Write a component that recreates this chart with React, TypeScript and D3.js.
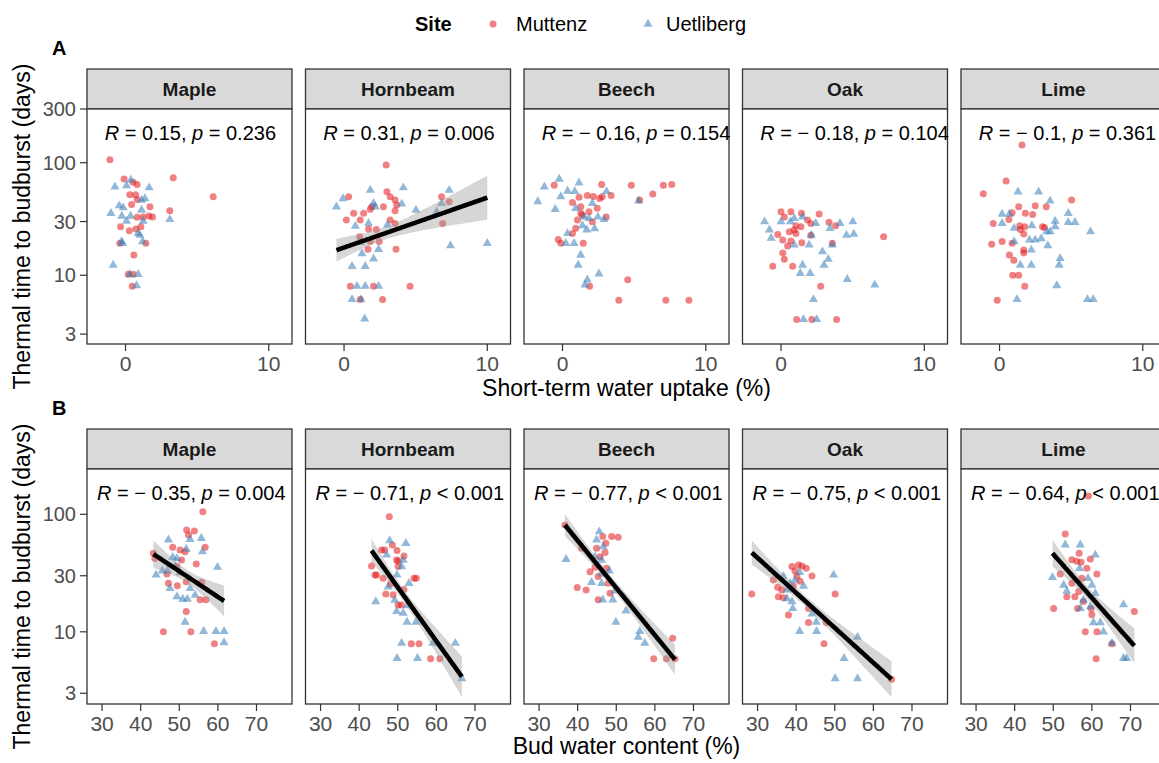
import React from "react";
import * as d3 from "d3";

type Pt = [number, number];

// Tree species shown as facets (left to right) and the two sites
const species = ["Maple", "Hornbeam", "Beech", "Oak", "Lime"];
const sites = ["Muttenz", "Uetliberg"];

// ---- Panel A: short-term water uptake (%) vs thermal time to budburst (days)
const mapleUptakeMuttenz: Pt[] = [[-1.09,106],[-0.1,71.7],[0.53,67],[0.81,64],[3.33,73.6],[6.12,49.9],[0.3,52],[0.7,52],[0.42,42.6],[0.81,47.2],[1.7,40.6],[3.09,37.4],[1.63,33.6],[1.88,33],[0.81,32.7],[1.23,33],[-0.35,27],[0.26,24.9],[0.72,25.7],[1.07,27],[-0.4,19.2],[1.42,19.2],[0.58,15.1],[0.19,10.2],[0.47,8.0],[0.53,10.2]];
const mapleUptakeUetliberg: Pt[] = [[-0.74,61],[0.07,62.5],[0.37,70],[1.65,60],[1.35,48],[1.12,46.6],[-0.44,41.5],[-0.16,39.8],[-1.02,35.5],[-0.26,33.6],[0.35,33.6],[0.07,30.3],[1.12,37.9],[1.23,30.3],[3.09,31.3],[0.88,23.5],[1.0,22.7],[1.19,19.9],[-0.28,19.9],[-0.21,19.2],[-0.86,12.3],[0.3,10.2],[0.88,10.2],[0.77,8.1]];
const hornbeamUptakeMuttenz: Pt[] = [[2.94,95.3],[0.32,49.9],[2.99,55.2],[3.22,49.9],[3.56,46.6],[3.68,42.1],[2.75,40.6],[1.94,40.6],[1.83,38.5],[3.56,37.4],[0.67,35.5],[1.37,35.5],[0.16,31],[1.13,31],[3.22,31],[3.56,28.9],[6.81,49.9],[7.34,45],[6.88,28.9],[1.71,25.7],[2.25,25.5],[1.83,19.9],[2.45,19.9],[1.67,17],[3.63,17],[0.44,8.0],[2.06,8.0],[4.61,8.0],[1.13,6.1],[2.69,6.1],[1.09,22]];
const hornbeamUptakeUetliberg: Pt[] = [[-0.07,48],[-0.53,40.6],[1.83,57],[4.14,60],[7.34,57],[2.06,43.6],[2.18,40.6],[4.03,43],[5.02,37.9],[6.46,36.6],[6.81,43.6],[0.79,27.3],[1.71,28.9],[3.03,28],[1.13,19.6],[1.25,15.6],[2.41,17],[2.06,14],[0.56,12],[1.48,12],[0.9,8.0],[1.48,8.0],[2.41,8],[0.56,6.1],[1.18,6.1],[1.44,4.1],[7.43,18.3],[10.0,19.2]];
const beechUptakeMuttenz: Pt[] = [[-0.58,63.2],[2.73,64],[4.8,63.2],[7.04,63.2],[7.62,64],[1.15,49.2],[1.73,51],[2.15,50],[2.77,49.9],[3.39,51],[2.59,48],[5.38,46.6],[6.3,52.6],[0.69,44.2],[1.27,40.6],[1.85,36.6],[2.42,39.3],[1.27,35.5],[1.39,34.3],[1.04,31],[3.05,33],[2.08,29.9],[0.92,26.2],[0.69,23.5],[-0.3,20.8],[-0.12,19.2],[1.45,19.2],[4.55,9.1],[1.89,8],[3.93,6.0],[7.21,6.0],[8.82,6.0]];
const beechUptakeUetliberg: Pt[] = [[-0.23,71.6],[-1.27,61],[-1.73,45.2],[-0.51,38.5],[-0.12,50],[0.35,56],[1.15,66.3],[0.85,55.6],[3.07,55.6],[2.08,43.6],[0.92,39.3],[1.5,33],[1.85,32],[2.47,33],[2.89,31.3],[1.39,27.6],[1.69,25.3],[2.24,26],[0.35,23.5],[0.23,19.2],[0.81,19.2],[1.27,15.1],[1.09,12.3],[2.54,10.3],[1.73,9.1],[1.57,8.2],[5.31,45.7]];
const oakUptakeMuttenz: Pt[] = [[0,36.6],[0.69,36.6],[0.23,33],[1.43,35.5],[2.66,35],[1.85,31],[2.08,28.9],[3.35,29.5],[3.81,27.6],[1.04,27.6],[0.92,25.3],[0.58,24.4],[1.39,27],[-0.23,23],[7.16,22],[0.12,20.6],[0.69,20.2],[1.45,19.4],[0.46,18.2],[2.08,22.7],[3.58,19.2],[0.12,15.8],[0.23,13.9],[-0.58,12],[0.81,12],[2.77,8],[1.09,4.05],[2.15,4.05],[3.88,4.05],[1.04,23.5]];
const oakUptakeUetliberg: Pt[] = [[-1.15,29.9],[-0.81,25.3],[-0.69,21.4],[0,29.9],[0.65,29.9],[0.92,32],[1.5,33],[2.42,28.9],[2.12,22.7],[1.96,18.6],[0.92,18.6],[3.42,26.1],[4.11,28.9],[5.01,29.9],[4.57,22.7],[5.08,23.2],[2.89,16.2],[3.3,13.9],[3.0,12.3],[1.5,12.3],[1.34,10.4],[2.03,10.4],[4.62,9.2],[6.54,8.2],[2.26,6.1],[1.57,4.05],[2.49,4.05],[3.58,18.6]];
const limeUptakeMuttenz: Pt[] = [[1.57,143.5],[0.46,68.7],[-1.13,53],[1.34,40.6],[2.49,41.4],[3.26,40.6],[5.03,46.6],[1.8,35.5],[2.31,34.7],[0.88,35.9],[0.65,31.3],[-0.44,28.9],[1.41,27.6],[1.76,27],[3.0,27],[3.14,26.5],[1.45,25.5],[1.69,23.2],[-0.55,18.9],[0.18,19.9],[0.88,19.2],[1.69,16.8],[1.69,15.8],[0.69,15.1],[1.0,13.6],[0.92,10],[1.34,10],[1.76,8],[-0.16,6.0]];
const limeUptakeUetliberg: Pt[] = [[1.29,55.2],[2.73,55.2],[3.53,45.7],[0.18,35],[0.69,35],[0.18,28.9],[1.02,26.2],[2.26,27.6],[3.88,30.3],[3.88,27],[4.8,35.5],[4.8,29.5],[5.27,29.5],[6.35,24.4],[3.3,24.4],[3.53,24.4],[2.08,20.6],[2.49,20.6],[2.91,21.2],[3.37,18.3],[2.22,16.8],[1.45,12.3],[2.22,12.3],[4.23,14.1],[4.16,12.3],[4.0,8.1],[1.22,6.1],[6.14,6.1],[6.54,6.1],[1.02,19.9]];

// ---- Panel B: bud water content (%) vs thermal time to budburst (days)
const mapleWaterMuttenz: Pt[] = [[56.1,105],[51.9,73.6],[52.4,66.7],[53.9,72],[43.3,46.6],[48.3,52.4],[50.2,49.7],[51.5,48.1],[56.7,52.4],[50.6,40.8],[54.4,37.8],[46.8,31],[49.4,35.9],[51.8,26.7],[47.2,25.9],[49.5,24.7],[55.8,26.4],[55.4,18.7],[56.9,18.7],[51.8,14.9],[45.9,10],[53,10],[59.1,7.9],[43.7,42]];
const mapleWaterUetliberg: Pt[] = [[47.2,60.6],[52.8,61.3],[55.7,62.4],[51.8,50.6],[56,48.1],[48.3,43],[49.4,42],[44,30.5],[46.9,33],[50.2,31.8],[47.6,23.4],[52.8,23.4],[49.4,19.9],[50.9,19],[52.1,19],[54.1,20.5],[59.9,35.5],[51.5,12.1],[56.3,10.1],[59.5,10.1],[61.6,10.1],[61.6,8.1],[48.9,35.9],[45.6,33]];
const hornbeamWaterMuttenz: Pt[] = [[47.8,95.5],[45.8,49.7],[46.6,49.7],[49.8,49.1],[51.6,44.2],[48.6,54.8],[43.2,36.3],[44.1,30.5],[44.5,30.5],[46.2,28.5],[49.7,40.8],[50.1,35.9],[48.1,25.5],[54.2,28.5],[54.8,28.5],[46.9,21],[48.8,20.7],[51.6,22.9],[50.1,16.9],[50.9,16.9],[53.5,7.9],[55.5,7.9],[58.5,5.9],[60.9,5.9],[50.1,40]];
const hornbeamWaterUetliberg: Pt[] = [[47.9,59.7],[52.1,56.6],[47.1,45.1],[51.4,40.8],[51,35.9],[49.8,30.5],[52.9,25.9],[47.5,24.1],[44.3,18.1],[49.7,14.9],[52.4,16.7],[51.4,14.4],[52.4,12.1],[54.7,12.1],[51,8.0],[59.1,8.0],[64.9,8.0],[49.8,5.95],[55.1,5.95],[66.6,4.0],[49.2,18.6]];
const beechWaterMuttenz: Pt[] = [[36.7,81],[46.5,64.6],[48.8,64.6],[50.5,63.8],[44.9,51.4],[41,51.4],[47.1,47.2],[47.3,56.6],[44.5,35.4],[47.5,34.7],[43.2,32.5],[45.3,29.5],[47.9,25.9],[39.9,23.8],[42.2,22.7],[45.3,18.7],[48.4,21.3],[64.6,8.8],[59.7,5.9],[63,5.9],[65.2,5.9],[45.8,43.6]];
const beechWaterUetliberg: Pt[] = [[37,41.4],[45.6,71.2],[44.9,60.6],[46.6,53],[44.5,43.6],[46.2,40.8],[48.2,33],[46.2,31.1],[43.6,26.4],[46.2,25.9],[49.7,22.3],[49.1,18.7],[52.5,15.1],[49.9,12.1],[56.1,10.1],[55.7,9.0],[57.4,8.0],[46.5,18.7]];
const oakWaterMuttenz: Pt[] = [[28.5,21],[38.9,35.9],[40.6,37],[41.5,36.3],[42.6,34.7],[44.1,29.9],[50.1,21],[34.1,27.6],[35.2,23.9],[36.3,22.7],[35.4,19.9],[36.7,19.5],[39.3,24.5],[40.2,29.7],[41,26.9],[38,13.9],[43.2,12],[47.8,12],[43.2,15.8],[47.2,7.9],[64.7,3.95],[39.7,33]];
const oakWaterUetliberg: Pt[] = [[36.7,29.7],[38.4,25.9],[39.7,27.6],[41.9,24.5],[37.6,19.2],[38.9,18.1],[39.1,15.8],[40.9,32],[49.7,30.5],[44.1,14.2],[45.2,12.1],[40.9,10.1],[45.3,10.1],[55.9,9.0],[52.4,5.95],[50.1,4.0],[55.9,4.0],[37.6,22.7]];
const limeWaterMuttenz: Pt[] = [[59.1,143],[53.1,68],[56.7,46.6],[59.6,41.7],[54.8,41],[56.1,39.8],[57.2,39],[58.7,34.7],[51.8,31],[61.3,31],[54.8,25.9],[57.4,28.5],[53.5,19.9],[55.6,19.9],[56.6,22],[57.8,18.1],[50.1,15.8],[56.3,15.8],[60,14],[58.3,10],[61.3,10],[65.2,7.9],[71,14.9],[61.1,5.9],[59.8,15.8]];
const limeWaterUetliberg: Pt[] = [[53.1,55],[57,55],[60.9,45.1],[49.8,29],[52.7,25],[53.5,22.2],[56.8,34.7],[59,28.5],[60,25],[60.9,21.2],[57.8,18.6],[59.6,16.4],[60.4,12],[62.2,12],[63,10],[68.2,17],[65.2,8.0],[68.2,5.95],[69,5.95],[57,15.8]];

// Correlation annotations per species
const uptakeR = ["0.15", "0.31", "\u2212 0.16", "\u2212 0.18", "\u2212 0.1"];
const uptakeP = ["= 0.236", "= 0.006", "= 0.154", "= 0.104", "= 0.361"];
const waterR = ["\u2212 0.35", "\u2212 0.71", "\u2212 0.77", "\u2212 0.75", "\u2212 0.64"];
const waterP = ["= 0.004", "< 0.001", "< 0.001", "< 0.001", "< 0.001"];

// Fitted log-linear trends (x range and fitted y at both ends); null = no trend drawn
type Fit = { x0: number; x1: number; y0: number; y1: number } | null;
const uptakeFits: Fit[] = [null, { x0: -0.53, x1: 10.0, y0: 16.7, y1: 48.9 }, null, null, null];
const waterFits: Fit[] = [
  { x0: 43.3, x1: 61.6, y0: 45.9, y1: 18.3 },
  { x0: 43.2, x1: 66.6, y0: 49.1, y1: 4.15 },
  { x0: 36.7, x1: 65.2, y0: 81, y1: 5.8 },
  { x0: 28.5, x1: 64.7, y0: 47.2, y1: 3.95 },
  { x0: 49.8, x1: 71, y0: 46.6, y1: 7.6 },
];

// Axis ticks
const uptakeXTicks = [0, 10];
const waterXTicks = [30, 40, 50, 60, 70];
const uptakeYTicks = [3, 10, 30, 100, 300];
const waterYTicks = [3, 10, 30, 100];

const uptakeData: Pt[][][] = [
  [mapleUptakeMuttenz, mapleUptakeUetliberg],
  [hornbeamUptakeMuttenz, hornbeamUptakeUetliberg],
  [beechUptakeMuttenz, beechUptakeUetliberg],
  [oakUptakeMuttenz, oakUptakeUetliberg],
  [limeUptakeMuttenz, limeUptakeUetliberg],
];
const waterData: Pt[][][] = [
  [mapleWaterMuttenz, mapleWaterUetliberg],
  [hornbeamWaterMuttenz, hornbeamWaterUetliberg],
  [beechWaterMuttenz, beechWaterUetliberg],
  [oakWaterMuttenz, oakWaterUetliberg],
  [limeWaterMuttenz, limeWaterUetliberg],
];

const FONT = "'Liberation Sans', Arial, Helvetica, sans-serif";
const SITE_COLORS = ["#E41A1C", "#377EB8"];
const PT_ALPHA = 0.55;
const FRAME = "#333333";
const TICK_TEXT = "#4D4D4D";

const W = 1159;
const H = 763;
const PANEL_X0 = 87;
const PANEL_STEP = 218.5;
const PANEL_W = 205;
const STRIP_H = 40;
const PANEL_H = 235;
// multiplier on the standard error for the ribbon around each trend
const BAND_T = 1.4;

const triPath = d3.symbol(d3.symbolTriangle, 36)() as string;

function bandPoints(points: Pt[], fit: NonNullable<Fit>) {
  const b = (Math.log10(fit.y1) - Math.log10(fit.y0)) / (fit.x1 - fit.x0);
  const a = Math.log10(fit.y0) - b * fit.x0;
  const n = points.length;
  const xbar = d3.mean(points, (p) => p[0]) as number;
  const sxx = d3.sum(points, (p) => (p[0] - xbar) ** 2);
  const s = Math.sqrt(d3.sum(points, (p) => (Math.log10(p[1]) - (a + b * p[0])) ** 2) / (n - 2));
  return d3.range(61).map((i) => {
    const x = fit.x0 + ((fit.x1 - fit.x0) * i) / 60;
    const m = a + b * x;
    const se = s * Math.sqrt(1 / n + (x - xbar) ** 2 / sxx);
    return { x, mid: 10 ** m, lo: 10 ** (m - BAND_T * se), hi: 10 ** (m + BAND_T * se) };
  });
}

type RowProps = {
  tag: string;
  letter: string;
  stripTop: number;
  data: Pt[][][];
  fits: Fit[];
  rVals: string[];
  pVals: string[];
  xDomain: [number, number];
  yDomain: [number, number];
  xTicks: number[];
  yTicks: number[];
  labelX: number;
  labelY: number;
  xTitle: string;
  xTitleY: number;
};

function FacetRow(props: RowProps) {
  const { tag, letter, stripTop, data, fits, rVals, pVals, xDomain, yDomain, xTicks, yTicks, labelX, labelY, xTitle, xTitleY } = props;
  const panelTop = stripTop + STRIP_H;
  const panelBottom = panelTop + PANEL_H;
  const y = d3.scaleLog().domain(yDomain).range([panelBottom, panelTop]);
  const totalRight = PANEL_X0 + PANEL_STEP * (species.length - 1) + PANEL_W;

  return (
    <g>
      <text x={52} y={stripTop - 14} fontSize={20} fontWeight="bold" fill="#000">{letter}</text>
      {/* y axis title */}
      <text
        transform={`translate(30, ${(panelTop + panelBottom) / 2}) rotate(-90)`}
        textAnchor="middle"
        fontSize={23}
        fill="#000"
      >
        Thermal time to budburst (days)
      </text>
      {/* y axis ticks on the first panel */}
      {yTicks.map((t) => (
        <g key={t}>
          <line x1={PANEL_X0 - 7} x2={PANEL_X0} y1={y(t)} y2={y(t)} stroke={FRAME} strokeWidth={1.2} />
          <text x={PANEL_X0 - 11} y={y(t)} dy="0.35em" textAnchor="end" fontSize={20} fill={TICK_TEXT}>{t}</text>
        </g>
      ))}
      {species.map((sp, i) => {
        const left = PANEL_X0 + PANEL_STEP * i;
        const x = d3.scaleLinear().domain(xDomain).range([left, left + PANEL_W]);
        const clipId = `clip-${tag}-${i}`;
        const fit = fits[i];
        const allPts = data[i][0].concat(data[i][1]);
        const band = fit ? bandPoints(allPts, fit) : null;
        const area = d3.area<{ x: number; lo: number; hi: number }>()
          .x((d) => x(d.x)).y0((d) => y(d.lo)).y1((d) => y(d.hi));
        const line = d3.line<{ x: number; mid: number }>().x((d) => x(d.x)).y((d) => y(d.mid));
        return (
          <g key={sp}>
            <defs>
              <clipPath id={clipId}>
                <rect x={left} y={panelTop} width={PANEL_W} height={PANEL_H} />
              </clipPath>
            </defs>
            {/* strip */}
            <rect x={left} y={stripTop} width={PANEL_W} height={STRIP_H} fill="#D9D9D9" stroke={FRAME} strokeWidth={1.3} />
            <text x={left + PANEL_W / 2} y={stripTop + STRIP_H / 2} dy="0.35em" textAnchor="middle" fontSize={19} fontWeight="bold" fill="#1A1A1A">{sp}</text>
            <rect x={left} y={panelTop} width={PANEL_W} height={PANEL_H} fill="#FFFFFF" />
            <g clipPath={`url(#${clipId})`}>
              {data[i][0].map((p, k) => (
                <circle key={`m${k}`} cx={x(p[0])} cy={y(p[1])} r={3.5} fill={SITE_COLORS[0]} fillOpacity={PT_ALPHA} />
              ))}
              {data[i][1].map((p, k) => (
                <path key={`u${k}`} d={triPath} transform={`translate(${x(p[0])},${y(p[1])})`} fill={SITE_COLORS[1]} fillOpacity={PT_ALPHA} />
              ))}
              {band && <path d={area(band) as string} fill="#999999" fillOpacity={0.4} />}
              {band && <path d={line(band) as string} fill="none" stroke="#000" strokeWidth={4.6} />}
            </g>
            <rect x={left} y={panelTop} width={PANEL_W} height={PANEL_H} fill="none" stroke={FRAME} strokeWidth={1.3} />
            {/* correlation label */}
            <text x={x(labelX)} y={y(labelY)} fontSize={20} fill="#000">
              <tspan fontStyle="italic">R</tspan>
              <tspan>{` = ${rVals[i]}, `}</tspan>
              <tspan fontStyle="italic">p</tspan>
              <tspan>{` ${pVals[i]}`}</tspan>
            </text>
            {/* x ticks */}
            {xTicks.map((t) => (
              <g key={t}>
                <line x1={x(t)} x2={x(t)} y1={panelBottom} y2={panelBottom + 7} stroke={FRAME} strokeWidth={1.2} />
                <text x={x(t)} y={panelBottom + 27} textAnchor="middle" fontSize={21} fill={TICK_TEXT}>{t}</text>
              </g>
            ))}
          </g>
        );
      })}
      <text x={(PANEL_X0 + totalRight) / 2} y={xTitleY} textAnchor="middle" fontSize={23} fill="#000">{xTitle}</text>
    </g>
  );
}

function Legend() {
  return (
    <g>
      <text x={415} y={31} fontSize={20} fontWeight="bold" fill="#000">Site</text>
      <circle cx={493} cy={24} r={3.5} fill={SITE_COLORS[0]} fillOpacity={PT_ALPHA} />
      <text x={516} y={31} fontSize={20} fill="#000">{sites[0]}</text>
      <path d={triPath} transform="translate(648,24)" fill={SITE_COLORS[1]} fillOpacity={PT_ALPHA} />
      <text x={666} y={31} fontSize={20} fill="#000">{sites[1]}</text>
    </g>
  );
}

export default function App() {
  return (
    <svg
      width={W}
      height={H}
      viewBox={`0 0 ${W} ${H}`}
      style={{ position: "fixed", left: 0, top: 0, display: "block", background: "#fff", fontFamily: FONT }}
    >
      <rect x={0} y={0} width={W} height={H} fill="#fff" />
      <Legend />
      <FacetRow
        tag="a"
        letter="A"
        stripTop={69}
        data={uptakeData}
        fits={uptakeFits}
        rVals={uptakeR}
        pVals={uptakeP}
        xDomain={[-2.69, 11.62]}
        yDomain={[2.45, 300]}
        xTicks={uptakeXTicks}
        yTicks={uptakeYTicks}
        labelX={-1.45}
        labelY={160}
        xTitle="Short-term water uptake (%)"
        xTitleY={396}
      />
      <FacetRow
        tag="b"
        letter="B"
        stripTop={429}
        data={waterData}
        fits={waterFits}
        rVals={waterR}
        pVals={waterP}
        xDomain={[26.1, 79.2]}
        yDomain={[2.43, 243]}
        xTicks={waterXTicks}
        yTicks={waterYTicks}
        labelX={28.7}
        labelY={132}
        xTitle="Bud water content (%)"
        xTitleY={754}
      />
    </svg>
  );
}
